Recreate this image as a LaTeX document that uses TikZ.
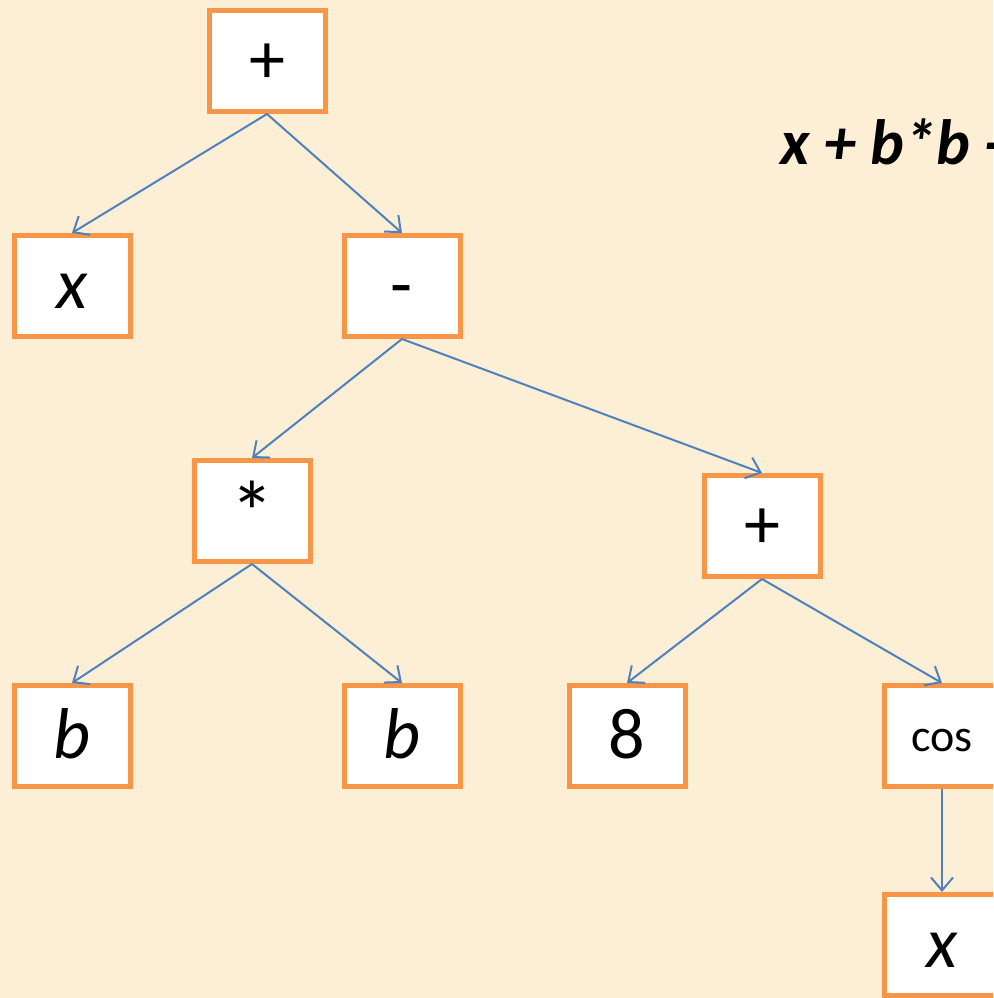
\documentclass[tikz,border=0pt]{standalone}
\usepackage{fontspec}
\setmainfont{Carlito}
\usetikzlibrary{arrows.meta}
\definecolor{parchment}{RGB}{252,239,213}
\definecolor{boxorange}{RGB}{247,150,70}
\definecolor{linkblue}{RGB}{79,129,189}

\begin{document}
\begin{tikzpicture}[
 x=1pt,y=1pt,
 every node/.style={font=\fontsize{72}{76}\selectfont,align=center},
 treebox/.style={draw=boxorange,fill=white,line width=5pt,
   minimum width=116pt,minimum height=101pt,inner sep=0pt,
   text height=46pt,text depth=0pt},
 small/.style={font=\fontsize{46}{50}\selectfont,text height=32pt},
 arr/.style={-{Straight Barb[length=13pt,width=22pt]},draw=linkblue,line width=2pt}
]
 \clip (0,0) rectangle (993,998);
 \fill[parchment] (0,0) rectangle (993,998);
 % expression text, cut off at the edge
 \node[anchor=base west,inner sep=0pt,font=\fontsize{64}{70}\selectfont\bfseries\itshape]
   (expr) at (780,833) {x + b*b -};
 % tree
 \node[treebox] (root) at (267,937) {+};
 \node[treebox] (xa) at (72,712) {\itshape x};
 \node[treebox] (minus) at (402,712) {-};
 \node[treebox] (times) at (252,487) {\raisebox{-10pt}{\fontsize{88}{90}\selectfont *}};
 \node[treebox] (plus) at (762,472) {+};
 \node[treebox] (ba) at (72,262) {\itshape b};
 \node[treebox] (bb) at (402,262) {\itshape b};
 \node[treebox] (eight) at (627,262) {8};
 \node[treebox,small] (cos) at (942,262) {cos};
 \node[treebox] (xb) at (942,53) {\itshape x};
 \draw[arr] (root.south) -- (xa.north);
 \draw[arr] (root.south) -- (minus.north);
 \draw[arr] (minus.south) -- (times.north);
 \draw[arr] (minus.south) -- (plus.north);
 \draw[arr] (times.south) -- (ba.north);
 \draw[arr] (times.south) -- (bb.north);
 \draw[arr] (plus.south) -- (eight.north);
 \draw[arr] (plus.south) -- (cos.north);
 \draw[arr] (cos.south) -- (xb.north);
\end{tikzpicture}
\end{document}
